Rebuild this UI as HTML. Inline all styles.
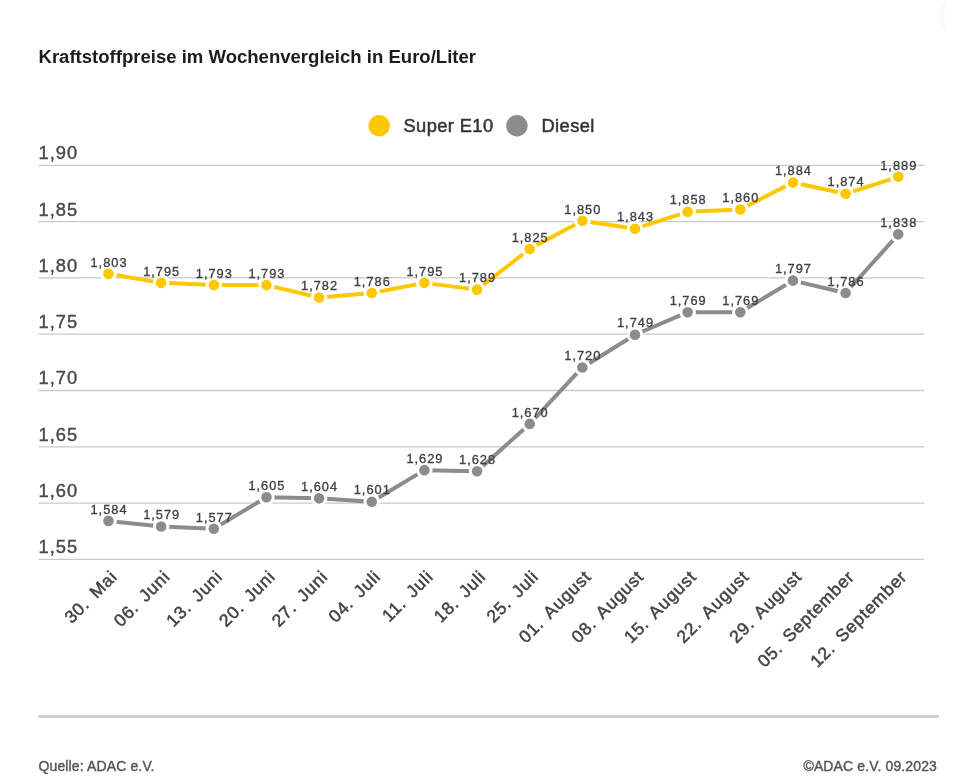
<!DOCTYPE html>
<html lang="de"><head><meta charset="utf-8"><title>Kraftstoffpreise im Wochenvergleich</title>
<style>
html,body{margin:0;padding:0;background:#fff}
body{width:954px;height:784px;overflow:hidden;font-family:"Liberation Sans",sans-serif}
svg{display:block}
text{font-family:"Liberation Sans",sans-serif}
.title{font-size:18.9px;font-weight:bold;fill:#1c1c1c}
.leg{font-size:18.3px;fill:#333;stroke:#333;stroke-width:.5px;letter-spacing:.4px}
.ax{font-size:18.3px;fill:#484848;stroke:#484848;stroke-width:.4px;letter-spacing:1px}
.xl{font-size:17.5px;fill:#444;stroke:#444;stroke-width:.5px;letter-spacing:.8px;word-spacing:3px;text-anchor:end}
.dl{font-size:12.8px;fill:#404040;stroke:#404040;stroke-width:.33px;letter-spacing:1px;text-anchor:middle}
.ft{font-size:14px;fill:#555;stroke:#555;stroke-width:.4px;letter-spacing:.13px}
</style></head><body>
<svg width="954" height="784" viewBox="0 0 954 784">
<rect width="954" height="784" fill="#ffffff"/>
<defs><filter id="sm" x="-100%" y="-20%" width="300%" height="140%"><feGaussianBlur stdDeviation="1.1"/></filter></defs>
<path d="M944.6 4 Q938.4 16 944.8 29" fill="none" stroke="#f3f3f3" stroke-width="1.8" stroke-linecap="round" filter="url(#sm)"/>
<text class="title" x="38.5" y="63.2" textLength="437.5" lengthAdjust="spacingAndGlyphs">Kraftstoffpreise im Wochenvergleich in Euro/Liter</text>
<circle cx="379.2" cy="125.8" r="10.7" fill="#FDC800"/>
<text class="leg" x="403.5" y="132.2">Super E10</text>
<circle cx="516.9" cy="125.8" r="10.7" fill="#8c8c8c"/>
<text class="leg" x="541.5" y="132.2">Diesel</text>
<g stroke="#c9c9c9" stroke-width="1.3">
<line x1="38.5" y1="165.3" x2="924.4" y2="165.3"/>
<line x1="38.5" y1="221.6" x2="924.4" y2="221.6"/>
<line x1="38.5" y1="277.9" x2="924.4" y2="277.9"/>
<line x1="38.5" y1="334.2" x2="924.4" y2="334.2"/>
<line x1="38.5" y1="390.5" x2="924.4" y2="390.5"/>
<line x1="38.5" y1="446.8" x2="924.4" y2="446.8"/>
<line x1="38.5" y1="503.1" x2="924.4" y2="503.1"/>
<line x1="38.5" y1="559.4" x2="924.4" y2="559.4"/>
</g>
<text class="ax" x="38.6" y="159.2">1,90</text>
<text class="ax" x="38.6" y="215.5">1,85</text>
<text class="ax" x="38.6" y="271.8">1,80</text>
<text class="ax" x="38.6" y="328.1">1,75</text>
<text class="ax" x="38.6" y="384.4">1,70</text>
<text class="ax" x="38.6" y="440.7">1,65</text>
<text class="ax" x="38.6" y="497">1,60</text>
<text class="ax" x="38.6" y="553.3">1,55</text>
<polyline points="108.5,520.91 161.15,526.55 213.8,528.81 266.45,497.22 319.1,498.35 371.75,501.73 424.4,470.14 477.05,471.27 529.7,423.89 582.35,367.48 635,334.76 687.65,312.19 740.3,312.19 792.95,280.6 845.6,293.01 898.25,234.35" fill="none" stroke="#8c8c8c" stroke-width="4" stroke-linejoin="round" stroke-linecap="round"/>
<g fill="#8c8c8c" stroke="#fff" stroke-width="3">
<circle cx="108.5" cy="520.91" r="6.8"/>
<circle cx="161.15" cy="526.55" r="6.8"/>
<circle cx="213.8" cy="528.81" r="6.8"/>
<circle cx="266.45" cy="497.22" r="6.8"/>
<circle cx="319.1" cy="498.35" r="6.8"/>
<circle cx="371.75" cy="501.73" r="6.8"/>
<circle cx="424.4" cy="470.14" r="6.8"/>
<circle cx="477.05" cy="471.27" r="6.8"/>
<circle cx="529.7" cy="423.89" r="6.8"/>
<circle cx="582.35" cy="367.48" r="6.8"/>
<circle cx="635" cy="334.76" r="6.8"/>
<circle cx="687.65" cy="312.19" r="6.8"/>
<circle cx="740.3" cy="312.19" r="6.8"/>
<circle cx="792.95" cy="280.6" r="6.8"/>
<circle cx="845.6" cy="293.01" r="6.8"/>
<circle cx="898.25" cy="234.35" r="6.8"/>
</g>
<polyline points="108.5,273.84 161.15,282.86 213.8,285.12 266.45,285.12 319.1,297.53 371.75,293.01 424.4,282.86 477.05,289.63 529.7,249.01 582.35,220.81 635,228.71 687.65,211.78 740.3,209.53 792.95,182.45 845.6,193.73 898.25,176.81" fill="none" stroke="#FDC800" stroke-width="4" stroke-linejoin="round" stroke-linecap="round"/>
<g fill="#FDC800" stroke="#fff" stroke-width="3">
<circle cx="108.5" cy="273.84" r="6.8"/>
<circle cx="161.15" cy="282.86" r="6.8"/>
<circle cx="213.8" cy="285.12" r="6.8"/>
<circle cx="266.45" cy="285.12" r="6.8"/>
<circle cx="319.1" cy="297.53" r="6.8"/>
<circle cx="371.75" cy="293.01" r="6.8"/>
<circle cx="424.4" cy="282.86" r="6.8"/>
<circle cx="477.05" cy="289.63" r="6.8"/>
<circle cx="529.7" cy="249.01" r="6.8"/>
<circle cx="582.35" cy="220.81" r="6.8"/>
<circle cx="635" cy="228.71" r="6.8"/>
<circle cx="687.65" cy="211.78" r="6.8"/>
<circle cx="740.3" cy="209.53" r="6.8"/>
<circle cx="792.95" cy="182.45" r="6.8"/>
<circle cx="845.6" cy="193.73" r="6.8"/>
<circle cx="898.25" cy="176.81" r="6.8"/>
</g>
<text class="dl" x="109" y="513.61">1,584</text>
<text class="dl" x="161.65" y="519.25">1,579</text>
<text class="dl" x="214.3" y="521.51">1,577</text>
<text class="dl" x="266.95" y="489.92">1,605</text>
<text class="dl" x="319.6" y="491.05">1,604</text>
<text class="dl" x="372.25" y="494.43">1,601</text>
<text class="dl" x="424.9" y="462.84">1,629</text>
<text class="dl" x="477.55" y="463.97">1,628</text>
<text class="dl" x="530.2" y="416.59">1,670</text>
<text class="dl" x="582.85" y="360.18">1,720</text>
<text class="dl" x="635.5" y="327.46">1,749</text>
<text class="dl" x="688.15" y="304.89">1,769</text>
<text class="dl" x="740.8" y="304.89">1,769</text>
<text class="dl" x="793.45" y="273.3">1,797</text>
<text class="dl" x="846.1" y="285.71">1,786</text>
<text class="dl" x="898.75" y="227.05">1,838</text>
<text class="dl" x="109" y="266.54">1,803</text>
<text class="dl" x="161.65" y="275.56">1,795</text>
<text class="dl" x="214.3" y="277.82">1,793</text>
<text class="dl" x="266.95" y="277.82">1,793</text>
<text class="dl" x="319.6" y="290.23">1,782</text>
<text class="dl" x="372.25" y="285.71">1,786</text>
<text class="dl" x="424.9" y="275.56">1,795</text>
<text class="dl" x="477.55" y="282.33">1,789</text>
<text class="dl" x="530.2" y="241.71">1,825</text>
<text class="dl" x="582.85" y="213.51">1,850</text>
<text class="dl" x="635.5" y="221.41">1,843</text>
<text class="dl" x="688.15" y="204.48">1,858</text>
<text class="dl" x="740.8" y="202.23">1,860</text>
<text class="dl" x="793.45" y="175.15">1,884</text>
<text class="dl" x="846.1" y="186.43">1,874</text>
<text class="dl" x="898.75" y="169.51">1,889</text>
<text class="xl" transform="translate(118.3 577.7) rotate(-45)">30. Mai</text>
<text class="xl" transform="translate(170.95 577.7) rotate(-45)">06. Juni</text>
<text class="xl" transform="translate(223.6 577.7) rotate(-45)">13. Juni</text>
<text class="xl" transform="translate(276.25 577.7) rotate(-45)">20. Juni</text>
<text class="xl" transform="translate(328.9 577.7) rotate(-45)">27. Juni</text>
<text class="xl" transform="translate(381.55 577.7) rotate(-45)">04. Juli</text>
<text class="xl" transform="translate(434.2 577.7) rotate(-45)">11. Juli</text>
<text class="xl" transform="translate(486.85 577.7) rotate(-45)">18. Juli</text>
<text class="xl" transform="translate(539.5 577.7) rotate(-45)">25. Juli</text>
<text class="xl" transform="translate(592.15 577.7) rotate(-45)">01. August</text>
<text class="xl" transform="translate(644.8 577.7) rotate(-45)">08. August</text>
<text class="xl" transform="translate(697.45 577.7) rotate(-45)">15. August</text>
<text class="xl" transform="translate(750.1 577.7) rotate(-45)">22. August</text>
<text class="xl" transform="translate(802.75 577.7) rotate(-45)">29. August</text>
<text class="xl" transform="translate(855.4 577.7) rotate(-45)">05. September</text>
<text class="xl" transform="translate(908.05 577.7) rotate(-45)">12. September</text>
<line x1="38.4" y1="716.6" x2="938.9" y2="716.6" stroke="#c8c8c8" stroke-width="2.5"/>
<text class="ft" x="38.5" y="771.3">Quelle: ADAC e.V.</text>
<text class="ft" x="937" y="771.3" text-anchor="end">©ADAC e.V. 09.2023</text>
</svg></body></html>
